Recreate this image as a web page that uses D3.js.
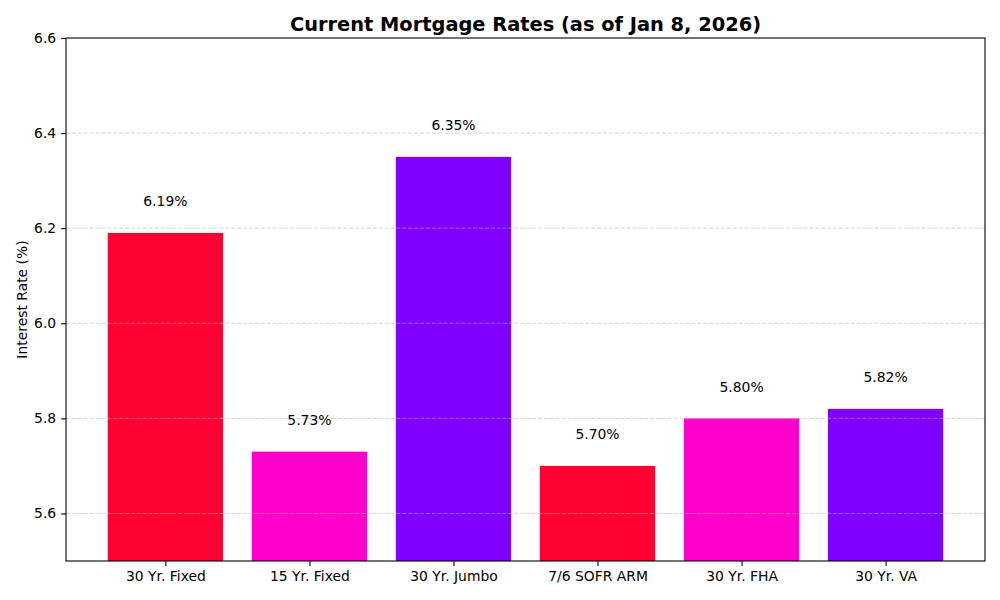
<!DOCTYPE html>
<html><head><meta charset="utf-8">
<script src="https://cdn.jsdelivr.net/npm/d3@7"></script>
<style>body{margin:0;background:#fff}text{font-family:"DejaVu Sans",sans-serif}</style>
</head><body>
<svg id="c" width="1000" height="600"></svg>
<script>
const categories = ["30 Yr. Fixed","15 Yr. Fixed","30 Yr. Jumbo","7/6 SOFR ARM","30 Yr. FHA","30 Yr. VA"];
const rates = [6.19, 5.73, 6.35, 5.70, 5.80, 5.82];
const colors = ["#FF0033","#FF00CC","#8000FF","#FF0033","#FF00CC","#8000FF"];
const yTicks = [5.6, 5.8, 6.0, 6.2, 6.4, 6.6];
const title = "Current Mortgage Rates (as of Jan 8, 2026)";
const yLabel = "Interest Rate (%)";

const svg = d3.select("#c");
const L = 66, R = 985, T = 38, B = 561;
const FS = "13.9px";
const x = d3.scaleLinear().domain([-0.69, categories.length - 1 + 0.69]).range([L, R]);
const y = d3.scaleLinear().domain([5.5, 6.6]).range([B, T]);
const bw = x(0.8) - x(0);

svg.append("clipPath").attr("id","pc").append("rect").attr("x",L).attr("y",T).attr("width",R-L).attr("height",B-T);

svg.append("g").attr("clip-path","url(#pc)").selectAll("rect").data(rates).join("rect")
  .attr("x",(d,i)=>x(i)-bw/2).attr("width",bw)
  .attr("y",d=>y(d)).attr("height",d=>y(5.5)-y(d)+5)
  .attr("fill",(d,i)=>colors[i]);

// grid
svg.append("g").selectAll("line").data(yTicks.filter(t=>t<6.6)).join("line")
  .attr("x1",L).attr("x2",R).attr("y1",d=>y(d)).attr("y2",d=>y(d))
  .attr("stroke","#b0b0b0").attr("stroke-opacity",0.55).attr("stroke-width",1)
  .attr("stroke-dasharray","4.1,1.8");

// value labels
svg.append("g").selectAll("text").data(rates).join("text")
  .attr("x",(d,i)=>x(i)).attr("y",d=>y(d+0.05)-3)
  .attr("text-anchor","middle").attr("font-size",FS).attr("fill","#000")
  .text(d=>d.toFixed(2)+"%");

// axes
const xAxis = d3.axisBottom(x).tickValues(d3.range(categories.length)).tickFormat(i=>categories[i]).tickSize(4.9).tickPadding(4.9);
const yAxis = d3.axisLeft(y).tickValues(yTicks).tickFormat(d3.format(".1f")).tickSize(4.9).tickPadding(4.9);
const gx = svg.append("g").attr("transform",`translate(0,${B})`).call(xAxis);
const gy = svg.append("g").attr("transform",`translate(${L},0)`).call(yAxis);
[gx,gy].forEach(g=>{
  g.select(".domain").remove();
  g.attr("font-size",null).attr("font-family",null);
  g.selectAll("text").attr("font-size",FS).attr("fill","#000");
  g.selectAll("line").attr("stroke","#000").attr("stroke-width",1.1);
});
svg.append("rect").attr("x",L).attr("y",T).attr("width",R-L).attr("height",B-T)
  .attr("fill","none").attr("stroke","#000").attr("stroke-width",1.1);

svg.append("text").attr("x",(L+R)/2).attr("y",31).attr("text-anchor","middle")
  .attr("font-size","19.4px").attr("font-weight","bold").text(title);
svg.append("text").attr("transform",`translate(27,${(T+B)/2}) rotate(-90)`).attr("text-anchor","middle")
  .attr("font-size",FS).text(yLabel);
</script>
</body></html>
